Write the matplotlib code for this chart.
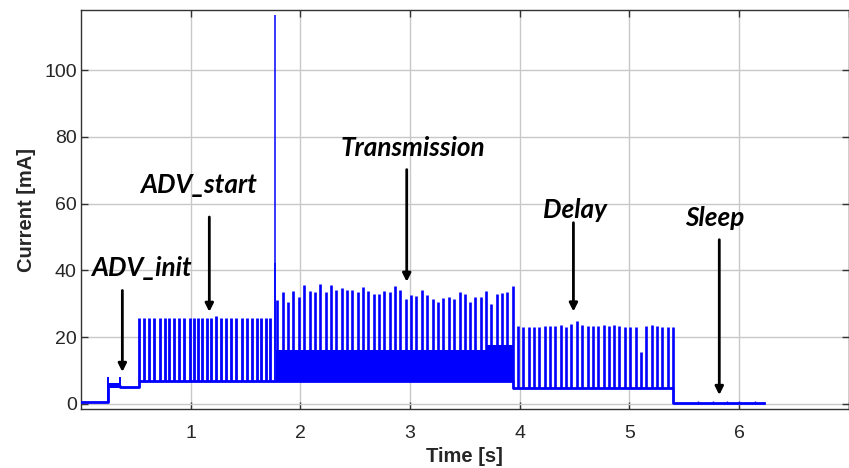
import numpy as np
import matplotlib
matplotlib.use("Agg")
import matplotlib.pyplot as plt

# ---- data ----
# piecewise baseline current [mA]: phase start times and levels
phase_t = [0.0, 0.243, 0.358, 0.526, 1.775, 3.937, 5.397, 6.232]
phase_lv = [0.5, 5.5, 5.2, 7.0, 7.0, 4.9, 0.25, 0.25]

# dense high-frequency bands (start, end, low, high)
band_t0 = [0.243, 1.775, 3.700]
band_t1 = [0.358, 3.700, 3.937]
band_lo = [4.7, 6.8, 6.8]
band_hi = [6.2, 16.3, 17.8]

init_spk_t = [0.243, 0.353]
init_spk_v = [8.1, 8.0]

start_spk_t = [0.532, 0.575, 0.624, 0.669, 0.717, 0.763, 0.806, 0.849, 0.897, 0.943,
               0.991, 1.027, 1.070, 1.107, 1.150, 1.189, 1.234, 1.280, 1.325, 1.371,
               1.416, 1.469, 1.517, 1.556, 1.602, 1.644, 1.690, 1.727]
start_spk_v = [25.9, 25.9, 25.8, 25.9, 25.9, 25.8, 25.9, 25.9, 25.8, 25.9,
               25.9, 25.8, 25.9, 25.8, 25.9, 25.9, 26.3, 25.9, 25.8, 25.9,
               25.9, 25.8, 25.9, 25.9, 25.8, 25.9, 25.9, 25.8]

peak_t = [1.768, 1.772]
peak_v = [42.2, 116.6]

tx_spk_t = [1.788, 1.839, 1.888, 1.936, 1.985, 2.036, 2.085, 2.134, 2.182, 2.231,
            2.280, 2.328, 2.377, 2.426, 2.474, 2.522, 2.572, 2.620, 2.668, 2.717,
            2.766, 2.814, 2.863, 2.912, 2.960, 3.009, 3.057, 3.109, 3.155, 3.206,
            3.253, 3.301, 3.352, 3.401, 3.452, 3.501, 3.547, 3.595, 3.644, 3.693,
            3.741, 3.793, 3.839, 3.887, 3.935]
tx_spk_v = [31.2, 33.6, 30.5, 33.9, 31.9, 35.7, 33.9, 33.6, 35.9, 33.6,
            35.5, 34.2, 34.7, 34.2, 34.2, 33.4, 35.1, 33.9, 33.0, 32.8,
            33.9, 33.6, 35.2, 34.2, 31.5, 32.7, 32.4, 34.0, 32.7, 31.5,
            30.5, 31.7, 32.0, 31.5, 33.5, 32.9, 30.6, 32.0, 32.0, 33.9,
            30.0, 32.8, 33.2, 33.5, 35.4]

delay_spk_t = [3.985, 4.033, 4.081, 4.130, 4.179, 4.227, 4.276, 4.324, 4.373, 4.422,
               4.470, 4.522, 4.570, 4.619, 4.668, 4.716, 4.765, 4.814, 4.862, 4.910,
               4.960, 5.008, 5.057, 5.106, 5.154, 5.202, 5.252, 5.300, 5.348, 5.394]
delay_spk_v = [23.4, 23.0, 23.2, 23.2, 23.2, 23.4, 23.4, 23.4, 23.6, 23.2,
               24.0, 25.0, 23.6, 23.4, 23.4, 23.4, 23.6, 23.4, 23.6, 23.4,
               23.2, 23.2, 23.0, 15.7, 23.4, 23.6, 23.4, 23.2, 23.2, 23.0]

sleep_spk_t = [5.63, 5.76, 5.89, 6.00, 6.15]
sleep_spk_v = [0.8, 0.8, 0.8, 0.8, 0.8]

x_ticks = [1, 2, 3, 4, 5, 6, 7]
x_ticklabels = ["1", "2", "3", "4", "5", "6", ""]
y_ticks = [0, 20, 40, 60, 80, 100]

labels = ["ADV_init", "ADV_start", "Transmission", "Delay", "Sleep"]
label_x = [0.55, 1.07, 3.03, 4.50, 5.78]
label_y = [40.8, 65.7, 76.8, 58.2, 55.8]
arrow_x = [0.377, 1.170, 2.970, 4.490, 5.820]
arrow_top = [34.0, 56.0, 70.2, 54.3, 49.2]
arrow_head = [9.6, 27.6, 36.6, 27.7, 2.7]

# ---- figure ----
W, H = 849, 468
fig = plt.figure(figsize=(W / 100, H / 100), dpi=100)
ax = fig.add_axes([81 / W, 1 - 409 / H, (848.7 - 81) / W, (409 - 10) / H])

blue = "#0000ff"

def base_at(ts):
    idx = np.searchsorted(phase_t, ts, side="right") - 1
    idx = np.clip(idx, 0, len(phase_lv) - 1)
    return np.asarray(phase_lv)[idx]

ax.step(phase_t, phase_lv, where="post", color=blue, lw=2.0, zorder=3)

for t0, t1, lo, hi in zip(band_t0, band_t1, band_lo, band_hi):
    ax.fill_between([t0, t1], [lo, lo], [hi, hi], color=blue, lw=0, zorder=3)

for ts, vs, lw in [(init_spk_t, init_spk_v, 1.4), (start_spk_t, start_spk_v, 2.0),
                   (tx_spk_t, tx_spk_v, 1.9), (delay_spk_t, delay_spk_v, 1.9),
                   (sleep_spk_t, sleep_spk_v, 1.0), (peak_t, peak_v, 1.1)]:
    ax.vlines(ts, base_at(np.asarray(ts) - 1e-4), vs, color=blue, lw=lw, zorder=3)

ann_font = dict(family=["Lato", "DejaVu Sans"], weight="bold", style="italic", size=18.8)
for lab, lx, ly in zip(labels, label_x, label_y):
    ax.text(lx, ly, lab, ha="center", va="center", color="black", **ann_font, zorder=5)
for axx, top, head in zip(arrow_x, arrow_top, arrow_head):
    ax.annotate("", xy=(axx, head), xytext=(axx, top),
                arrowprops=dict(arrowstyle="-|>", color="black", lw=2,
                                mutation_scale=12, shrinkA=0, shrinkB=0), zorder=5)

ax.set_xlim(0, 7)
ax.set_ylim(-1.5, 118)
ax.set_xticks(x_ticks)
ax.set_xticklabels(x_ticklabels)
ax.set_yticks(y_ticks)
ax.grid(True, color="#c8c8c8", lw=1.0, zorder=0)
ax.set_axisbelow(True)
ax.tick_params(direction="in", length=5, width=1, top=True, right=True,
               colors="#333333", labelsize=14, labelcolor="#262626")
ax.tick_params(axis="x", pad=11.5)
ax.tick_params(axis="y", pad=3)
for lab in ax.get_xticklabels() + ax.get_yticklabels():
    lab.set_family("Liberation Sans")
for s in ax.spines.values():
    s.set_color("#333333")
    s.set_linewidth(1.0)
ax.set_xlabel("Time [s]", family="Liberation Sans", weight="bold", size=14.5,
              color="#262626", labelpad=3.5)
ax.set_ylabel("Current [mA]", family="Liberation Sans", weight="bold", size=14.5,
              color="#262626", labelpad=6)

fig.savefig("out.png", dpi=100)
